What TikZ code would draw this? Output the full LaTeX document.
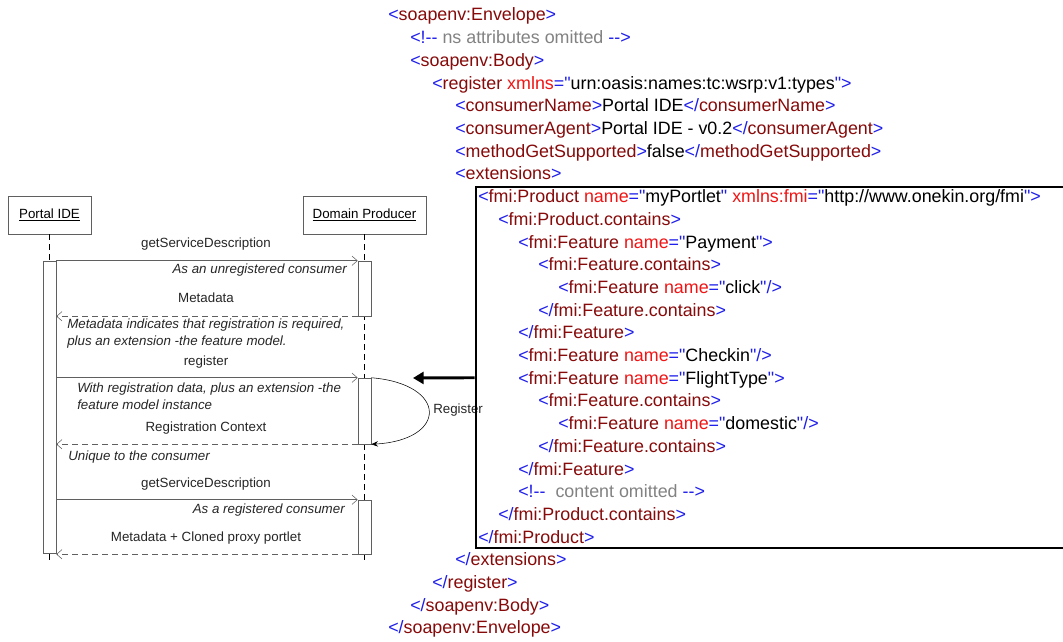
\documentclass[tikz,border=0pt]{standalone}
\usepackage{fontspec}
\setmainfont{Liberation Sans}[Ligatures=TeXOff]
\usetikzlibrary{arrows.meta}

\definecolor{xmlblue}{RGB}{30,30,235}
\definecolor{xmlred}{RGB}{135,10,10}
\definecolor{xmlattr}{RGB}{240,20,20}
\definecolor{xmlgray}{RGB}{130,130,130}
\definecolor{seqgray}{RGB}{95,95,95}

% xml colouring
\newcommand\xb[1]{\textcolor{xmlblue}{#1}}
\newcommand\xn[1]{\textcolor{xmlred}{#1}}
\newcommand\xa[1]{\textcolor{xmlattr}{#1}}
\newcommand\xopen[1]{\xb{<}\xn{#1}\xb{>}}
\newcommand\xclose[1]{\xb{</}\xn{#1}\xb{>}}
\newcommand\xattr[2]{\xa{#1}\xb{="}#2\xb{"}}

\begin{document}
\begin{tikzpicture}[x=0.75pt,y=-0.75pt,
  xml/.style={anchor=base west, inner sep=0pt, font=\fontsize{13.4}{15}\selectfont},
  seq/.style={inner sep=0pt, text=black!85, font=\fontsize{10}{12.75}\selectfont},
  note/.style={seq, font=\fontsize{10}{12.75}\selectfont\itshape},
  actor/.style={draw=seqgray, fill=white, minimum height=28.5pt, inner sep=0pt,
    font=\fontsize{10}{12}\selectfont},
  act/.style={draw=seqgray, fill=white, minimum width=9.75pt, inner sep=0pt},
  life/.style={black, dash pattern=on 4.5pt off 3pt},
  call/.style={seqgray, -{Straight Barb[length=4pt,width=7pt]}},
  ret/.style={call, dash pattern=on 4.5pt off 3pt}]
  \useasboundingbox (0,0) rectangle (1063,642);
  \fill[white] (0,0) rectangle (1063,642);

  % actors and lifelines
  \node[actor, minimum width=62.25pt] (portal) at (49.5,215) {\underline{Portal IDE}};
  \node[actor, minimum width=92.25pt] (producer) at (364.5,215) {\underline{Domain Producer}};
  \coordinate (portalend) at (49.5,560);
  \coordinate (producerend) at (364.5,560);
  \draw[life] (portal) -- (portalend);
  \draw[life] (producer) -- (producerend);

  % activations
  \node[act, minimum height=219pt] (pact) at (49.5,407) {};
  \node[act, minimum height=41.25pt] (dact1) at (364.5,288.5) {};
  \node[act, minimum height=49.5pt] (dact2) at (364.5,411) {};
  \node[act, minimum height=40.5pt] (dact3) at (364.5,527) {};

  % messages
  \draw[call] (pact.east |- dact1.north) -- (dact1.north west);
  \draw[ret] (dact1.south west) -- (pact.east |- dact1.south);
  \draw[call] (pact.east |- dact2.north) -- (dact2.north west);
  \draw[ret] (dact2.south west) -- (pact.east |- dact2.south);
  \draw[call] (pact.east |- dact3.north) -- (dact3.north west);
  \draw[ret] (dact3.south west) -- (pact.east |- dact3.south);
  \draw[-{Stealth[length=5pt,width=4pt]}] (dact2.north east)
    .. controls (448,384) and (448,440) .. (dact2.south east);

  \node[seq, anchor=base] (m1) at (206,247) {getServiceDescription};
  \node[note, anchor=base east] (n1) at (347,273) {As an unregistered consumer};
  \node[seq, anchor=base] (m2) at (206,302) {Metadata};
  \node[note, anchor=west, align=left] (n2) at (67,333.5)
    {Metadata indicates that registration is required,\\plus an extension -the feature model.};
  \node[seq, anchor=base] (m3) at (206,365) {register};
  \node[note, anchor=west, align=left] (n3) at (77,396)
    {With registration data, plus an extension -the\\feature model instance};
  \node[seq, anchor=base] (m4) at (206,431) {Registration Context};
  \node[note, anchor=base west] (n4) at (68,460) {Unique to the consumer};
  \node[seq, anchor=base] (m5) at (206,487) {getServiceDescription};
  \node[note, anchor=base east] (n5) at (345,513) {As a registered consumer};
  \node[seq, anchor=base] (m6) at (206,541) {Metadata + Cloned proxy portlet};
  \node[seq, anchor=west] (reglabel) at (433,410) {Register};

  % extension box
  \node[draw, line width=2.2pt, minimum width=449.25pt, minimum height=270.75pt,
    inner sep=0pt] (xbox) at (775.5,367.5) {};
  \coordinate (regtip) at (413,378);
  \draw[line width=2.2pt, -{Triangle[length=8pt,width=9pt]}] (xbox.west |- dact2.north) -- (regtip);

  % soap message
  \node[xml] (x1) at (388,21) {\xopen{soapenv:Envelope}};
  \node[xml] (x2) at (410,43.7) {\xb{<!-{}-} \textcolor{xmlgray}{ns attributes omitted} \xb{-{}->}};
  \node[xml] (x3) at (410,66.4) {\xopen{soapenv:Body}};
  \node[xml] (x4) at (432,89.1) {\xb{<}\xn{register} \xattr{xmlns}{urn:oasis:names:tc:wsrp:v1:types}\xb{>}};
  \node[xml] (x5) at (455,111.8) {\xopen{consumerName}Portal IDE\xclose{consumerName}};
  \node[xml] (x6) at (455,134.5) {\xopen{consumerAgent}Portal IDE - v0.2\xclose{consumerAgent}};
  \node[xml] (x7) at (455,157.2) {\xopen{methodGetSupported}false\xclose{methodGetSupported}};
  \node[xml] (x8) at (455,179.9) {\xopen{extensions}};
  \node[xml] (x9) at (478,202.6) {\xb{<}\xn{fmi:Product} \xattr{name}{myPortlet} \xattr{xmlns:fmi}{http://www.onekin.org/fmi}\xb{>}};
  \node[xml] (x10) at (498,225.3) {\xopen{fmi:Product.contains}};
  \node[xml] (x11) at (518,248) {\xb{<}\xn{fmi:Feature} \xattr{name}{Payment}\xb{>}};
  \node[xml] (x12) at (538,270.7) {\xopen{fmi:Feature.contains}};
  \node[xml] (x13) at (558,293.4) {\xb{<}\xn{fmi:Feature} \xattr{name}{click}\xb{/>}};
  \node[xml] (x14) at (538,316.1) {\xclose{fmi:Feature.contains}};
  \node[xml] (x15) at (518,338.8) {\xclose{fmi:Feature}};
  \node[xml] (x16) at (518,361.5) {\xb{<}\xn{fmi:Feature} \xattr{name}{Checkin}\xb{/>}};
  \node[xml] (x17) at (518,384.2) {\xb{<}\xn{fmi:Feature} \xattr{name}{FlightType}\xb{>}};
  \node[xml] (x18) at (538,406.9) {\xopen{fmi:Feature.contains}};
  \node[xml] (x19) at (558,429.6) {\xb{<}\xn{fmi:Feature} \xattr{name}{domestic}\xb{/>}};
  \node[xml] (x20) at (538,452.3) {\xclose{fmi:Feature.contains}};
  \node[xml] (x21) at (518,475) {\xclose{fmi:Feature}};
  \node[xml] (x22) at (518,497.7) {\xb{<!-{}-}\ \ \textcolor{xmlgray}{content omitted} \xb{-{}->}};
  \node[xml] (x23) at (498,520.4) {\xclose{fmi:Product.contains}};
  \node[xml] (x24) at (478,543.1) {\xclose{fmi:Product}};
  \node[xml] (x25) at (455,565.8) {\xclose{extensions}};
  \node[xml] (x26) at (432,588.5) {\xclose{register}};
  \node[xml] (x27) at (410,611.2) {\xclose{soapenv:Body}};
  \node[xml] (x28) at (388,633.9) {\xclose{soapenv:Envelope}};
\end{tikzpicture}
\end{document}
